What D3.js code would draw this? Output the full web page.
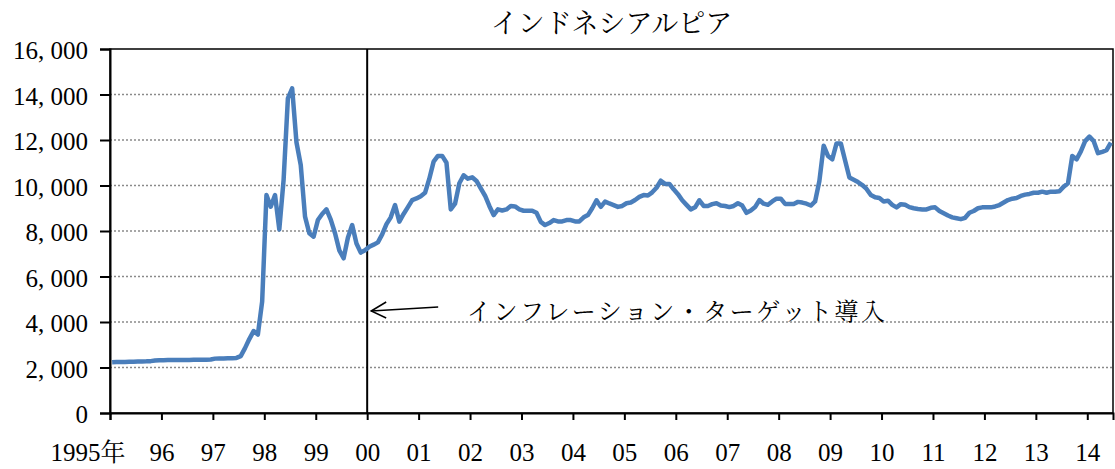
<!DOCTYPE html>
<html><head><meta charset="utf-8">
<script src="https://cdn.jsdelivr.net/npm/d3@7"></script>
<style>
html,body{margin:0;padding:0;background:#fff;}
svg{display:block;}
</style></head>
<body>
<svg id="chart" width="1115" height="469"></svg>
<script>
const titleText = "インドネシアルピア";
const annotationText = "インフレーション・ターゲット導入";
const yearLabels = ["1995年","96","97","98","99","00","01","02","03","04","05","06","07","08","09","10","11","12","13","14"];
const yTicks = [0,2000,4000,6000,8000,10000,12000,14000,16000];
const targetMonthIndex = 60; // Jan 2000
// monthly IDR per USD, Jan 1995 - Jun 2014
const rates = [
 2230,2240,2240,2245,2250,2255,2260,2265,2270,2280,2310,2320,
 2320,2325,2330,2330,2330,2335,2335,2340,2340,2340,2345,2350,
 2390,2400,2400,2410,2410,2420,2500,2850,3250,3600,3450,4900,
 9580,9070,9580,8070,10240,13830,14270,11900,10900,8630,7900,7750,
 8480,8750,8950,8500,7900,7150,6800,7700,8260,7450,7050,7150,
 7310,7400,7500,7850,8300,8600,9140,8410,8750,9050,9360,9430,
 9530,9680,10300,11050,11300,11300,11000,8950,9200,10100,10450,10300,
 10360,10200,9870,9550,9100,8700,8950,8900,8950,9100,9080,8950,
 8890,8890,8890,8800,8400,8260,8350,8480,8420,8420,8480,8480,
 8420,8420,8600,8700,9000,9350,9060,9290,9210,9140,9060,9100,
 9220,9250,9360,9500,9580,9560,9700,9900,10210,10070,10070,9830,
 9620,9350,9150,8950,9040,9350,9100,9100,9180,9220,9120,9100,
 9050,9100,9220,9120,8800,8900,9050,9360,9200,9150,9300,9420,
 9420,9190,9190,9190,9280,9250,9200,9120,9300,10200,11750,11300,
 11150,11850,11850,11100,10350,10250,10150,10020,9850,9580,9480,9450,
 9300,9330,9150,9040,9180,9150,9050,9000,8970,8950,8950,9020,
 9040,8880,8780,8680,8600,8560,8520,8580,8800,8880,9000,9040,
 9040,9040,9080,9140,9250,9360,9420,9450,9540,9600,9630,9680,
 9680,9730,9680,9730,9730,9750,9950,10100,11300,11150,11500,11950,
 12150,11950,11420,11480,11550,11880
];

const NUM_FONT = '"Liberation Serif", "Noto Serif CJK JP", serif';
const JP_FONT = '"Noto Serif CJK JP", "Liberation Serif", serif';

const svg = d3.select("#chart");
const m = {left:110, right:1113, top:49, bottom:413};
const n = rates.length;
const x = d3.scaleLinear().domain([0, n]).range([m.left, m.right]);
const y = d3.scaleLinear().domain([0, 16000]).range([m.bottom, m.top]);

// gridlines
svg.append("g").selectAll("line").data(yTicks.filter(v => v > 0 && v < 16000)).join("line")
  .attr("x1", m.left).attr("x2", m.right)
  .attr("y1", d => y(d)).attr("y2", d => y(d))
  .attr("stroke", "#8a8a8a").attr("stroke-width", 1.5).attr("stroke-dasharray", "2,2");

// plot border
svg.append("rect").attr("x", m.left).attr("y", m.top)
  .attr("width", m.right - m.left).attr("height", m.bottom - m.top)
  .attr("fill", "none").attr("stroke", "#000").attr("stroke-width", 1.5);

// target line
svg.append("line").attr("x1", x(targetMonthIndex)).attr("x2", x(targetMonthIndex))
  .attr("y1", m.top).attr("y2", m.bottom).attr("stroke", "#000").attr("stroke-width", 2);

// y axis
const fmt = v => d3.format(",")(v).replace(",", ", ");
const yAxis = svg.append("g").attr("transform", `translate(${m.left},0)`)
  .call(d3.axisLeft(y).tickValues(yTicks).tickSize(10).tickPadding(12).tickFormat(fmt));
yAxis.attr("font-family", null).attr("font-size", null);
yAxis.select(".domain").attr("stroke", "#000").attr("stroke-width", 2);
yAxis.selectAll(".tick line").attr("stroke", "#000").attr("stroke-width", 2);
yAxis.selectAll(".tick text").attr("fill", "#000").attr("dy", "0.38em")
  .style("font-family", NUM_FONT).style("font-size", "25px");

// x axis
const xTickVals = yearLabels.map((d, i) => i * 12);
const xAxis = svg.append("g").attr("transform", `translate(0,${m.bottom})`)
  .call(d3.axisBottom(x).tickValues(xTickVals).tickSize(7).tickPadding(23).tickFormat((d, i) => yearLabels[i]));
xAxis.attr("font-family", null).attr("font-size", null);
xAxis.select(".domain").attr("stroke", "#000").attr("stroke-width", 2);
xAxis.selectAll(".tick line").attr("stroke", "#000").attr("stroke-width", 2);
xAxis.selectAll(".tick text").attr("fill", "#000")
  .style("font-family", NUM_FONT).style("font-size", "25px")
  .attr("text-anchor", (d, i) => i === 0 ? "end" : "middle")
  .attr("x", (d, i) => i === 0 ? 15 : 0);

// data line
const line = d3.line().x((d, i) => x(i + 0.5)).y(d => y(d));
svg.append("path").datum(rates).attr("d", line)
  .attr("fill", "none").attr("stroke", "#4A7EBB").attr("stroke-width", 4.5)
  .attr("stroke-linejoin", "round");

// title
svg.append("text").attr("x", (m.left + m.right) / 2).attr("y", 33)
  .attr("text-anchor", "middle").attr("fill", "#000")
  .style("font-family", JP_FONT).style("font-size", "27px")
  .text(titleText);

// arrow annotation
const ax0 = x(targetMonthIndex) + 4, ay0 = 311;
const ag = svg.append("g").attr("stroke", "#000").attr("stroke-width", 1.5).attr("fill", "none");
ag.append("line").attr("x1", ax0).attr("y1", ay0).attr("x2", ax0 + 67).attr("y2", ay0 - 4);
ag.append("path").attr("d", `M${ax0 + 15},${ay0 - 9} L${ax0},${ay0} L${ax0 + 15},${ay0 + 7}`);

svg.append("text").attr("x", 467).attr("y", 320).attr("fill", "#000")
  .attr("textLength", 418).attr("lengthAdjust", "spacing")
  .style("font-family", JP_FONT).style("font-size", "24px")
  .text(annotationText);
</script>
</body></html>
